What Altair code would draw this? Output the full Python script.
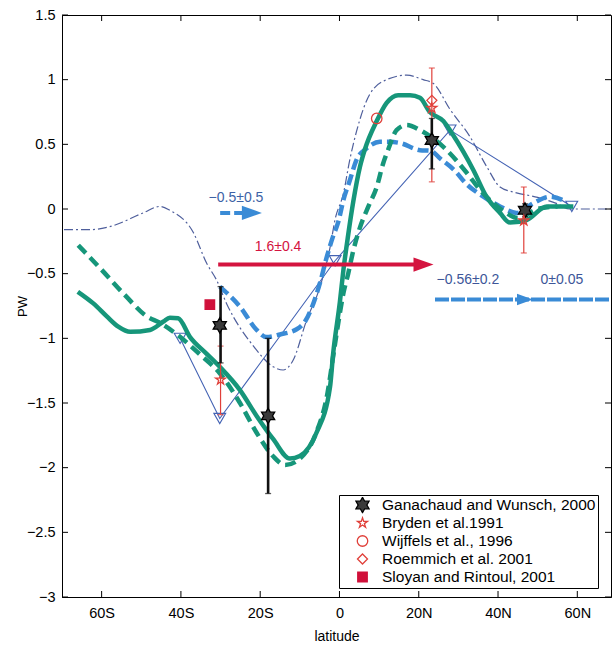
import altair as alt
import pandas as pd

# ---------------- data ----------------
# thick solid green curve
gs_lat = [-66, -62.1, -58.7, -55.8, -52.8, -47.8, -44.4, -42.8, -40.7, -37.7, -33.5, -30.2, -25.1, -20.9,
          -16.7, -12.5, -10, -5.8, -2.4, -1.6, 0.1, 1, 2.2, 3.5, 5.2, 6.4, 9.4, 11.9, 14.8, 17.8, 20.3,
          22.8, 26.2, 28.7, 33.8, 37.1, 40.5, 43, 47.2, 52.3, 57.3, 59]
gs_pw = [-0.64, -0.73, -0.83, -0.91, -0.95, -0.935, -0.87, -0.84, -0.845, -0.99, -1.12, -1.22, -1.40, -1.60,
         -1.78, -1.93, -1.91, -1.73, -1.38, -1.12, -0.72, -0.47, -0.20, 0.06, 0.33, 0.46, 0.68, 0.82, 0.88, 0.88, 0.86,
         0.75, 0.68, 0.57, 0.30, 0.095, -0.03, -0.105, -0.085, 0.02, 0.02, 0.02]
# thick dashed green curve
gd_lat = [-65.9, -60, -54, -48.6, -45.3, -41, -35, -30.2, -25.1, -20.9, -16.8, -13.7, -10, -6, -3, -1.5,
          -0.3, 1, 2.2, 3.5, 5.2, 7.3, 9.4, 11, 12.3, 14.4, 17, 20.3, 26.2, 32.1, 35.4, 38.8, 42, 45, 50, 55]
gd_pw = [-0.28, -0.47, -0.67, -0.83, -0.88, -0.97, -1.13, -1.27, -1.50, -1.73, -1.91, -1.98, -1.93, -1.74, -1.42, -1.12,
         -0.88, -0.65, -0.50, -0.32, -0.14, 0.02, 0.17, 0.35, 0.46, 0.61, 0.65, 0.61, 0.48, 0.28, 0.15, 0.045, -0.03, -0.07, 0.0, 0.02]
# thick dashed light-blue curve
bd_lat = [-30.2, -25.1, -20.9, -18.4, -15, -10.8, -8.5, -5.8, -4.9, -3.2, -1.6, -0.3, 1, 2.6, 4.3, 6.9,
          10.2, 12.7, 15.3, 20.3, 23, 25.4, 29.6, 31.2, 36.3, 40.5, 44.7, 48.9, 53.1, 57.3]
bd_pw = [-0.60, -0.755, -0.935, -0.99, -0.97, -0.93, -0.86, -0.66, -0.57, -0.37, -0.21, -0.10, 0.07, 0.22, 0.38, 0.47,
         0.52, 0.52, 0.51, 0.455, 0.45, 0.39, 0.28, 0.22, 0.095, 0.02, -0.03, 0.045, 0.095, 0.055]
# thin dash-dot curve
dd_lat = [-69.5, -63, -58, -49.5, -45.3, -42.8, -36.9, -33.5, -31, -28.5, -21.7, -16.7, -14.2, -11.7, -8.3,
          -4.9, -2.4, -1.1, 1, 2.6, 4.3, 7.7, 11.9, 17, 21.1, 23.7, 27.9, 32.9, 37.1, 40.5, 44, 50, 55, 58, 68.5]
dd_pw = [-0.16, -0.16, -0.137, -0.03, 0.02, -0.01, -0.18, -0.42, -0.55, -0.73, -1.06, -1.22, -1.245, -1.17, -0.86,
         -0.60, -0.30, -0.08, 0.12, 0.38, 0.60, 0.89, 1.0, 1.035, 1.0, 0.97, 0.77, 0.56, 0.33, 0.17, 0.13, 0.09, 0.04, 0.0, 0.0]
# thin line with open triangles
tri_lat = [-40.2, -30.2, -1.1, 27.9, 58.6]
tri_pw = [-1.0, -1.62, -0.40, 0.61, 0.02]

# estimates (markers)
sources = ["Ganachaud and Wunsch, 2000", "Bryden et al.1991", "Wijffels et al., 1996",
           "Roemmich et al. 2001", "Sloyan and Rintoul, 2001"]
pt_src = [0, 0, 0, 0, 1, 1, 1, 2, 3, 4]
pt_lat = [-30.2, -18, 23.3, 46.8, -30.0, 23.3, 46.5, 9.4, 23.3, -32.7]
pt_pw = [-0.90, -1.60, 0.53, -0.01, -1.32, 0.78, -0.09, 0.70, 0.84, -0.74]

# error bars
eb_black_lat = [-30.0, -18.0, 23.3, 46.8]
eb_black_lo = [-1.19, -2.20, 0.31, -0.06]
eb_black_hi = [-0.60, -1.00, 0.70, 0.04]
eb_red_lat = [-30.0, 23.3, 46.5]
eb_red_lo = [-1.59, 0.21, -0.34]
eb_red_hi = [-1.06, 1.09, 0.17]

# arrows: start lat, head lat, line end lat, PW
arrow_start = [-30.1, -30.6, 24.1]
arrow_head = [-22.1, 21.2, 46.8]
arrow_end = [-22.1, 21.2, 68.5]
arrow_pw = [-0.03, -0.43, -0.70]

# annotation texts
ann_text = ["\u22120.5\u00b10.5", "1.6\u00b10.4", "\u22120.56\u00b10.2", "0\u00b10.05"]
ann_lat = [-26.1, -15.5, 32.4, 56.1]
ann_pw = [0.085, -0.29, -0.55, -0.55]
ann_col = ["#3d62a6", "#d4143f", "#3d5699", "#3d5699"]

# axes
lat_ticks = [-60, -40, -20, 0, 20, 40, 60]
lat_labels = ["60S", "40S", "20S", "0", "20N", "40N", "60N"]
pw_ticks = [1.5, 1, 0.5, 0, -0.5, -1, -1.5, -2, -2.5, -3]

# ---------------- styling ----------------
W, H = 549, 582
FONT = "Liberation Sans"
GREEN = "#16967a"
LBLUE = "#3a8bd6"
NAVY = "#4f5f9c"
TRI = "#4463b4"
RED = "#d4143f"
HEX = "M0,-1L0.289,-0.5L0.866,-0.5L0.577,0L0.866,0.5L0.289,0.5L0,1L-0.289,0.5L-0.866,0.5L-0.577,0L-0.866,-0.5L-0.289,-0.5Z"
STAR5 = "M0,-1L0.225,-0.309L0.951,-0.309L0.363,0.118L0.588,0.809L0,0.382L-0.588,0.809L-0.363,0.118L-0.951,-0.309L-0.225,-0.309Z"
HEAD = "M1,0L-1,-0.72L-1,0.72Z"

xs = alt.Scale(domain=[-70, 68.5], nice=False, zero=False)
ys = alt.Scale(domain=[-3, 1.5], nice=False, zero=False)

label_expr = ""
for v, l in zip(lat_ticks, lat_labels):
    label_expr += f"datum.value == {v} ? '{l}' : "
label_expr += "''"

xaxis = alt.Axis(values=lat_ticks, labelExpr=label_expr, ticks=False, grid=False,
                 labelFontSize=14.5, labelPadding=9, title="latitude", titleFontSize=14,
                 titleFontWeight="normal", titleY=39, titleBaseline="middle")
yaxis = alt.Axis(values=pw_ticks, format="~g", ticks=False, grid=False,
                 labelFontSize=14.5, labelPadding=7, title="PW", titleFontSize=13,
                 titleFontWeight="normal", titleX=-40, titleY=H / 2, titleAngle=-90,
                 titleAlign="center", titleBaseline="middle")
X = alt.X("lat:Q", scale=xs, axis=xaxis)
Y = alt.Y("pw:Q", scale=ys, axis=yaxis)


def curve(lat, pw):
    return pd.DataFrame({"lat": lat, "pw": pw})


dd = alt.Chart(curve(dd_lat, dd_pw)).mark_line(
    color=NAVY, strokeWidth=1.2, strokeDash=[9, 3, 2, 3], interpolate="monotone", clip=True
).encode(x=X, y=Y)

tri_line = alt.Chart(curve(tri_lat, tri_pw)).mark_line(color=TRI, strokeWidth=1.1, clip=True).encode(x=X, y=Y)
tri_pts = alt.Chart(curve(tri_lat, tri_pw)).mark_point(
    shape="triangle-down", size=140, color=TRI, strokeWidth=1.1, fill="transparent", opacity=1
).encode(x=X, y=Y)

bd = alt.Chart(curve(bd_lat, bd_pw)).mark_line(
    color=LBLUE, strokeWidth=4.5, strokeDash=[11, 5], interpolate="monotone", clip=True
).encode(x=X, y=Y)
gd = alt.Chart(curve(gd_lat, gd_pw)).mark_line(
    color=GREEN, strokeWidth=4.5, strokeDash=[11, 6], interpolate="monotone", clip=True
).encode(x=X, y=Y)
gs = alt.Chart(curve(gs_lat, gs_pw)).mark_line(
    color=GREEN, strokeWidth=4.5, interpolate="monotone", clip=True
).encode(x=X, y=Y)


# error bars
def errbar(lat, lo, hi, color, width):
    bars = pd.DataFrame({"lat": lat, "pw": lo, "pw2": hi})
    caps = pd.DataFrame({"lat": list(lat) + list(lat), "pw": list(lo) + list(hi)})
    bar = alt.Chart(bars).mark_rule(color=color, strokeWidth=width).encode(x=X, y=Y, y2="pw2:Q")
    cap = alt.Chart(caps).mark_tick(color=color, orient="horizontal", size=6, thickness=1.3).encode(x=X, y=Y)
    return bar + cap


eb_red = errbar(eb_red_lat, eb_red_lo, eb_red_hi, "#e0403a", 1.2)
eb_blk = errbar(eb_black_lat, eb_black_lo, eb_black_hi, "#111111", 2.6)

# markers with legend
pts = pd.DataFrame({"lat": pt_lat, "pw": pt_pw, "source": [sources[i] for i in pt_src]})
leg = alt.Legend(title=None, orient="none", legendX=277, legendY=480, fillColor="white",
                 strokeColor="black", padding=2, labelFontSize=15.5, labelFont=FONT, labelColor="black",
                 symbolStrokeWidth=1.3, rowPadding=1, clipHeight=16, symbolOffset=13, labelOffset=11,
                 labelLimit=400)
markers = alt.Chart(pts).mark_point(opacity=1, strokeWidth=1.3).encode(
    x=X, y=Y,
    shape=alt.Shape("source:N", scale=alt.Scale(domain=sources, range=[HEX, STAR5, "circle", "diamond", "square"]), legend=leg),
    fill=alt.Fill("source:N", scale=alt.Scale(domain=sources, range=["#3a3a3a", "transparent", "transparent", "transparent", "#d0103a"]), legend=leg),
    stroke=alt.Stroke("source:N", scale=alt.Scale(domain=sources, range=["#000000", "#e0403a", "#e0403a", "#e0403a", "#d0103a"]), legend=leg),
    size=alt.Size("source:N", scale=alt.Scale(type="ordinal", domain=sources, range=[230, 110, 110, 100, 90]), legend=leg),
)


# arrows
def arrow(i, color, width, dash, head_size):
    line_df = pd.DataFrame({"lat": [arrow_start[i]], "lat2": [arrow_end[i]], "pw": [arrow_pw[i]]})
    head_df = pd.DataFrame({"lat": [arrow_head[i]], "pw": [arrow_pw[i]]})
    kw = {"strokeDash": dash} if dash else {}
    line = alt.Chart(line_df).mark_rule(color=color, strokeWidth=width, clip=True, **kw).encode(
        x=X, x2="lat2:Q", y=Y)
    head = alt.Chart(head_df).mark_point(shape=HEAD, size=head_size, filled=True, color=color, opacity=1).encode(
        x=X, y=Y)
    return line + head


ar_s = arrow(0, LBLUE, 4, [10, 4], 400)
ar_r = arrow(1, RED, 4, None, 400)
ar_n = arrow(2, LBLUE, 4, [14, 2], 256)

ann = pd.DataFrame({"text": ann_text, "lat": ann_lat, "pw": ann_pw, "col": ann_col})
texts = alt.Chart(ann).mark_text(fontSize=14, font=FONT, align="center", baseline="middle").encode(
    x=X, y=Y, text="text:N", color=alt.Color("col:N", scale=None))

# inward ticks on all four sides
xt = pd.DataFrame({"lat": lat_ticks})
yt = pd.DataFrame({"pw": pw_ticks})
tk = dict(color="black", strokeWidth=1)
t_bot = alt.Chart(xt).mark_rule(**tk).encode(x=X, y=alt.value(H), y2=alt.value(H - 6))
t_top = alt.Chart(xt).mark_rule(**tk).encode(x=X, y=alt.value(0), y2=alt.value(6))
t_lft = alt.Chart(yt).mark_rule(**tk).encode(y=Y, x=alt.value(0), x2=alt.value(6))
t_rgt = alt.Chart(yt).mark_rule(**tk).encode(y=Y, x=alt.value(W - 6), x2=alt.value(W))

chart = alt.layer(
    dd, tri_line, tri_pts, bd, gd, gs, eb_red, eb_blk, markers, ar_s, ar_r, ar_n, texts,
    t_bot, t_top, t_lft, t_rgt
).properties(
    width=W, height=H,
    autosize=alt.AutoSizeParams(type="none"),
    padding={"left": 62, "top": 15, "right": 1, "bottom": 50},
).configure(font=FONT, background="white").configure_view(
    stroke="black", strokeWidth=1
).configure_axis(
    domainColor="black", labelColor="black", titleColor="black", labelFont=FONT, titleFont=FONT
)

chart.save("out.html", embed_options={"renderer": "svg", "actions": False})
